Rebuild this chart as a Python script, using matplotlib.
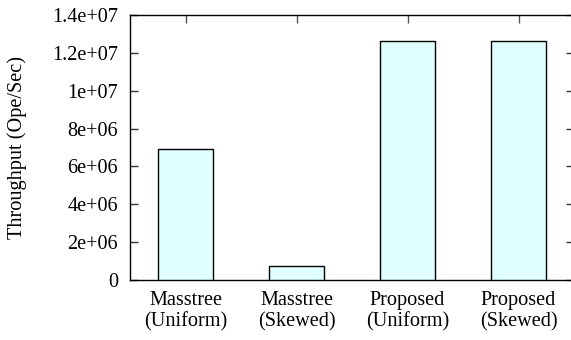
import matplotlib.pyplot as plt
import numpy as np

# Throughput per configuration
labels = ['Masstree\n(Uniform)', 'Masstree\n(Skewed)', 'Proposed\n(Uniform)', 'Proposed\n(Skewed)']
throughput = [6.92e6, 0.74e6, 1.26e7, 1.26e7]
yticks = [0, 2e6, 4e6, 6e6, 8e6, 1e7, 1.2e7, 1.4e7]
ytick_labels = ['0', '2e+06', '4e+06', '6e+06', '8e+06', '1e+07', '1.2e+07', '1.4e+07']

plt.rcParams['font.family'] = ['Liberation Serif', 'DejaVu Serif']
plt.rcParams['font.size'] = 14.6

fig = plt.figure(figsize=(5.71, 3.40), dpi=100)
# right edge of the frame runs just past the figure border
ax = fig.add_axes([0.2277, 0.1765, 0.7776, 0.7794])

x = np.arange(len(labels))
ax.bar(x, throughput, width=0.5, color='#e0ffff', edgecolor='black', linewidth=1.0, zorder=3)

ax.set_xlim(-0.5, len(labels) - 0.5)
ax.set_ylim(0, 1.4e7)
ax.set_yticks(yticks)
ax.set_yticklabels(ytick_labels)
ax.set_xticks(x)
ax.set_xticklabels(labels, linespacing=1.15)

ax.tick_params(axis='y', direction='in', left=True, right=True, length=6, width=1,
               color='#333333', pad=8.5)
ax.tick_params(axis='x', direction='in', bottom=True, top=True, length=6, width=1,
               color='#555555', pad=8)

for s in ax.spines.values():
    s.set_linewidth(1.0)
    s.set_color('black')

ax.set_ylabel('Throughput (Ope/Sec)')
ax.yaxis.set_label_coords(-0.232, 0.5)

fig.savefig('out.png', dpi=100)
